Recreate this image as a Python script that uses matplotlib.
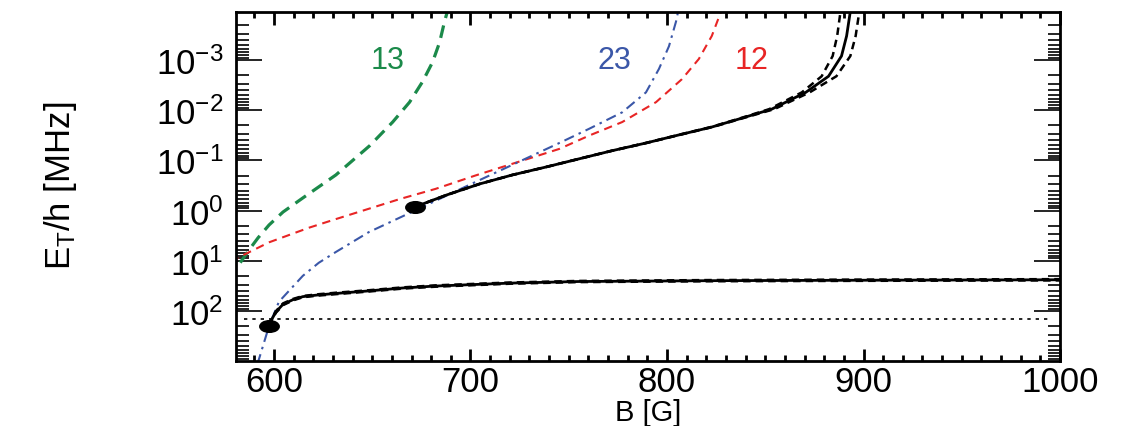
import matplotlib
matplotlib.use("Agg")
import matplotlib.pyplot as plt
from matplotlib.path import Path
from matplotlib.transforms import Affine2D

plt.rcParams['font.family'] = ['Liberation Sans', 'DejaVu Sans']
plt.rcParams['mathtext.fontset'] = 'custom'
plt.rcParams['mathtext.rm'] = 'Liberation Sans'
plt.rcParams['mathtext.it'] = 'Liberation Sans:italic'

# curve 13 (green dashed)
b13 = [578.0, 580.7, 587.3, 591.9, 597.5, 604.6, 614.7, 631.5, 648.7, 660.4, 669.0, 675.6, 680.7, 684.3, 686.8, 688.3]
e13 = [25, 14.5, 6.1, 3.5, 1.94, 1.07, 0.56, 0.195, 0.051, 0.0172, 6.9e-3, 2.7e-3, 1.1e-3, 4.4e-4, 1.7e-4, 1.05e-4]

# curve 12 (red dashed)
b12 = [578.0, 580.7, 597.5, 617.8, 631.5, 664.0, 682.2, 702.5, 745.2, 760.4, 777.2, 794.4, 807.6, 816.2, 822.8, 827.4]
e12 = [10.2, 9.1, 4.3, 2.2, 1.48, 0.59, 0.37, 0.2, 0.059, 0.032, 0.0172, 6.9e-3, 2.4e-3, 9.5e-4, 3.3e-4, 1.1e-4]

# curve 23 (blue dash-dot)
b23 = [591.4, 592.4, 597.5, 602.5, 614.7, 622.8, 631.5, 648.2, 665.5, 702.5, 745.2, 760.4, 777.2, 789.3, 795.9, 801.0, 804.6, 805.6]
e23 = [1150, 910, 200, 66, 20, 11, 6.7, 2.7, 1.3, 0.27, 0.045, 0.0234, 0.011, 4.4e-3, 1.5e-3, 5.3e-4, 1.7e-4, 1.1e-4]

# upper trimer branch (black) with its band
b_up = [671.6, 687.8, 704.6, 721.3, 738.6, 755.3, 772.1, 789.3, 806.1, 822.8, 836.5, 853.3, 870.6, 882.2, 888.8, 891.4, 893.4]
b_up_lo = [671.6, 687.8, 704.6, 721.3, 738.6, 755.3, 772.0, 789.1, 805.8, 822.4, 835.9, 852.0, 868.6, 878.7, 884.3, 886.6, 888.4]
b_up_hi = [671.6, 687.8, 704.6, 721.3, 738.6, 755.3, 772.2, 789.5, 806.4, 823.2, 837.1, 854.6, 872.6, 886.2, 893.3, 896.0, 898.0]
e_up = [0.85, 0.49, 0.295, 0.195, 0.135, 0.093, 0.064, 0.045, 0.031, 0.0216, 0.015, 9.5e-3, 4.4e-3, 2.1e-3, 8.3e-4, 3.3e-4, 1.0e-4]

# lower trimer branch (black) with its band
b_low = [597.5, 599.2, 601.0, 604.6, 609.6, 614.7, 622.8, 631.5, 648.2, 665.5, 682.2, 720.0, 755.0, 823.0, 900.0, 1000.0]
e_low = [200, 140, 105, 74, 60, 52, 48, 45, 40, 35, 32, 28, 26, 25, 24.5, 24]
e_low_lo = [200, 136, 101, 71, 58, 50.5, 46.5, 43.5, 38.8, 34.0, 31.0, 27.2, 25.3, 24.3, 23.8, 23.3]
e_low_hi = [200, 144, 109, 77, 62, 53.5, 49.5, 46.5, 41.2, 36.0, 33.0, 28.8, 26.7, 25.7, 25.2, 24.7]

# threshold (dotted) and end points
b_thr = [585, 995]
e_thr = 145
dots_b = [671.6, 597.5]
dots_e = [0.85, 200]

yticks = [1e-3, 1e-2, 1e-1, 1e0, 1e1, 1e2]
ytick_labels = ['$10^{-3}$', '$10^{-2}$', '$10^{-1}$', '$10^{0}$', '$10^{1}$', '$10^{2}$']
xticks = [600, 700, 800, 900, 1000]

fig = plt.figure(figsize=(11.37, 4.27), dpi=100)
ax = fig.add_axes([0.2076, 0.1522, 0.7247, 0.8173])

ax.plot(b13, e13, color='#1b8a4a', lw=2.3, dashes=(4, 2.4))
ax.plot(b12, e12, color='#e82525', lw=1.5, dashes=(4, 2.8))
ax.plot(b23, e23, color='#3b57a8', lw=1.5, dashes=(5, 2.5, 1.2, 2.5))

ax.plot(b_up, e_up, color='black', lw=2)
ax.plot(b_up_lo, e_up, color='black', lw=1.8, dashes=(3, 2))
ax.plot(b_up_hi, e_up, color='black', lw=1.8, dashes=(3, 2))

ax.plot(b_low, e_low, color='black', lw=2)
ax.plot(b_low, e_low_lo, color='black', lw=1.8, dashes=(3, 2))
ax.plot(b_low, e_low_hi, color='black', lw=1.8, dashes=(3, 2))

ax.hlines(e_thr, b_thr[0], b_thr[1], color='black', lw=1.2, linestyles=(0, (2, 3)))

ellipse = Path.unit_circle().transformed(Affine2D().scale(1, 0.6))
ax.plot(dots_b, dots_e, ls='none', marker=ellipse, markersize=14, color='black')

ax.text(658, 1e-3, '13', color='#1b8a4a', fontsize=22, ha='center', va='center')
ax.text(773, 1e-3, '23', color='#3b57a8', fontsize=22, ha='center', va='center')
ax.text(843, 1e-3, '12', color='#e82525', fontsize=22, ha='center', va='center')

ax.set_yscale('log')
ax.set_xlim(580.7, 1000)
ax.set_ylim(1e3, 1.1e-4)
ax.set_yticks(yticks, ytick_labels)
ax.set_xticks(xticks)
ax.xaxis.set_minor_locator(matplotlib.ticker.MultipleLocator(10))
ax.yaxis.set_minor_locator(matplotlib.ticker.LogLocator(base=10, subs=range(2, 10), numticks=20))
ax.yaxis.set_minor_formatter(matplotlib.ticker.NullFormatter())

ax.tick_params(axis='both', which='both', direction='in', top=True, right=True)
ax.tick_params(axis='x', which='major', length=9, width=2, labelsize=25, pad=3)
ax.tick_params(axis='x', which='minor', length=4, width=2)
ax.tick_params(axis='y', which='major', length=19, width=1.2, labelsize=25, pad=9)
ax.tick_params(axis='y', which='minor', length=9, width=1.2)
for s in ax.spines.values():
    s.set_linewidth(2)

ax.set_xlabel('B [G]', fontsize=21)
ax.xaxis.set_label_coords(0.5, -0.107)
ax.set_ylabel('E$_\\mathrm{T}$/h [MHz]', fontsize=25)
ax.yaxis.set_label_coords(-0.19, 0.504)

fig.savefig('out.png', dpi=100)
